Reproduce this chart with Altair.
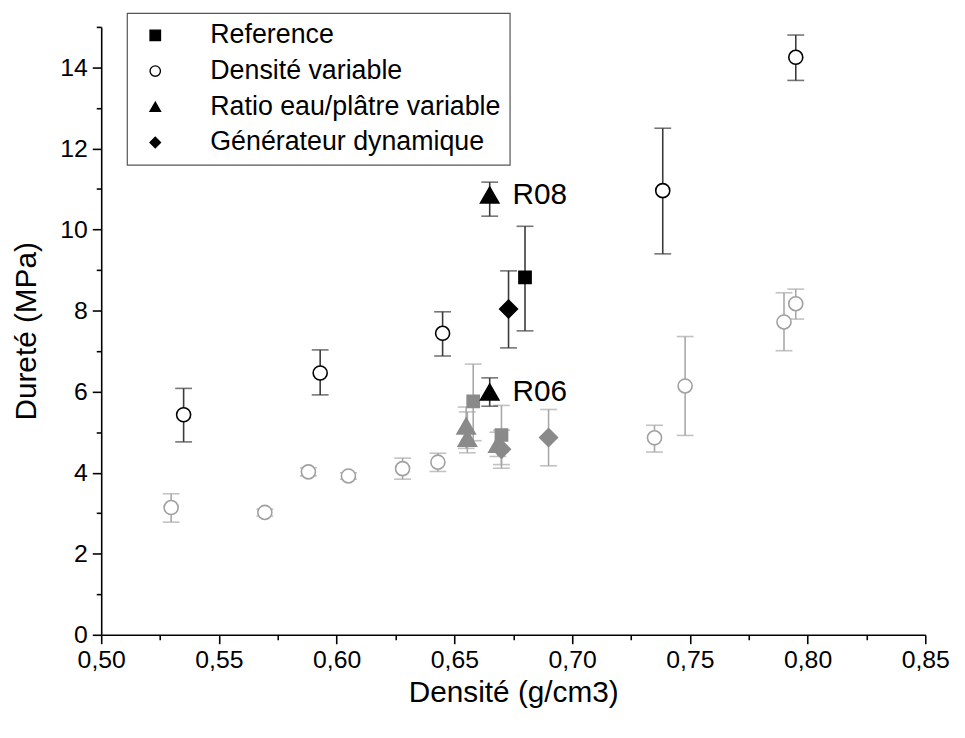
import altair as alt
import pandas as pd

series_names = ["Reference", "Densité variable", "Ratio eau/plâtre variable", "Générateur dynamique"]
shapes = ["square", "circle", "triangle-up", "diamond"]
legend_fills = ["black", "white", "black", "black"]
legend_strokes = ["black", "black", "black", "black"]
marker_sizes = [150, 200, 340, 320]

# Dark (black) series
dark_series = ["Reference",
               "Densité variable", "Densité variable", "Densité variable", "Densité variable", "Densité variable",
               "Ratio eau/plâtre variable", "Ratio eau/plâtre variable",
               "Générateur dynamique"]
dark_x = [0.680, 0.535, 0.593, 0.645, 0.7385, 0.795, 0.665, 0.665, 0.673]
dark_y = [8.82, 5.43, 6.46, 7.44, 10.96, 14.25, 10.85, 5.99, 8.04]
dark_lo = [7.50, 4.76, 5.92, 6.88, 9.40, 13.68, 10.33, 5.64, 7.08]
dark_hi = [10.08, 6.08, 7.03, 7.97, 12.50, 14.80, 11.17, 6.34, 8.98]

# Light (gray) series
gray_series = ["Reference", "Reference",
               "Densité variable", "Densité variable", "Densité variable", "Densité variable", "Densité variable",
               "Densité variable", "Densité variable", "Densité variable", "Densité variable", "Densité variable",
               "Ratio eau/plâtre variable", "Ratio eau/plâtre variable", "Ratio eau/plâtre variable",
               "Générateur dynamique", "Générateur dynamique"]
gray_x = [0.658, 0.670,
          0.5297, 0.5695, 0.588, 0.605, 0.628, 0.643, 0.735, 0.748, 0.790, 0.795,
          0.655, 0.6555, 0.6685,
          0.670, 0.690]
gray_y = [5.76, 4.93,
          3.14, 3.02, 4.02, 3.92, 4.10, 4.26, 4.86, 6.14, 7.72, 8.17,
          5.15, 4.85, 4.70,
          4.58, 4.87]
gray_lo = [4.79, 4.20,
           2.78, 2.93, 3.92, 3.84, 3.84, 4.03, 4.51, 4.92, 7.01, 7.79,
           4.60, 4.49, 4.40,
           4.11, 4.17]
gray_hi = [6.68, 5.66,
           3.48, 3.10, 4.12, 4.00, 4.36, 4.48, 5.17, 7.36, 8.44, 8.53,
           5.62, 5.50, 5.00,
           5.05, 5.56]

label_text = ["R08", "R06"]
label_x = [0.665, 0.665]
label_y = [10.85, 5.99]

size_of = dict(zip(series_names, marker_sizes))

dark = pd.DataFrame({"series": dark_series, "x": dark_x, "y": dark_y, "lo": dark_lo, "hi": dark_hi})
dark["sz"] = [size_of[s] for s in dark_series]
gray = pd.DataFrame({"series": gray_series, "x": gray_x, "y": gray_y, "lo": gray_lo, "hi": gray_hi})
gray["sz"] = [size_of[s] for s in gray_series]
gray["fillc"] = ["white" if s == "Densité variable" else "#8a8a8a" for s in gray_series]
gray["strokec"] = ["#a0a0a0" if s == "Densité variable" else "#8a8a8a" for s in gray_series]
labels = pd.DataFrame({"t": label_text, "x": label_x, "y": label_y})

FONT = "Liberation Sans"
x_vals = [round(0.5 + 0.025 * i, 3) for i in range(15)]
y_vals = list(range(16))

xscale = alt.Scale(domain=[0.5, 0.85], nice=False, zero=False)
yscale = alt.Scale(domain=[0, 15], nice=False)

xaxis = alt.Axis(
    values=x_vals, title="Densité (g/cm3)", grid=False,
    labelExpr="(round(datum.value*1000) % 50 == 0) ? replace(format(datum.value, '.2f'), '.', ',') : ''",
    tickSize={"condition": {"test": "round(datum.value*1000) % 50 == 0", "value": 9}, "value": 5},
    labelFontSize=25, titleFontSize=30, labelFont=FONT, titleFont=FONT,
    labelColor="black", titleColor="black", domainColor="black", tickColor="black",
    domainWidth=1.6, tickWidth=1.6, labelPadding=4, titlePadding=5,
    titleFontWeight="normal", labelFlush=False, labelOverlap=False,
)
yaxis = alt.Axis(
    values=y_vals, title="Dureté (MPa)", grid=False,
    labelExpr="(datum.value % 2 == 0) ? format(datum.value, 'd') : ''",
    tickSize={"condition": {"test": "datum.value % 2 == 0", "value": 9}, "value": 5},
    labelFontSize=25, titleFontSize=30, labelFont=FONT, titleFont=FONT,
    labelColor="black", titleColor="black", domainColor="black", tickColor="black",
    domainWidth=1.6, tickWidth=1.6, labelPadding=5, titlePadding=18,
    titleFontWeight="normal", labelFlush=False, labelOverlap=False,
)

X = alt.X("x:Q", scale=xscale, axis=xaxis)
Y = alt.Y("y:Q", scale=yscale, axis=yaxis)

def errbars(df, color):
    base = alt.Chart(df)
    rule = base.mark_rule(color=color, strokeWidth=1.6).encode(
        x=alt.X("x:Q", scale=xscale, axis=xaxis), y=alt.Y("lo:Q", scale=yscale, axis=yaxis), y2="hi:Q")
    cap_lo = base.mark_tick(color=color, orient="horizontal", size=17, thickness=1.6).encode(
        x=alt.X("x:Q", scale=xscale, axis=xaxis), y=alt.Y("lo:Q", scale=yscale, axis=yaxis))
    cap_hi = base.mark_tick(color=color, orient="horizontal", size=17, thickness=1.6).encode(
        x=alt.X("x:Q", scale=xscale, axis=xaxis), y=alt.Y("hi:Q", scale=yscale, axis=yaxis))
    return rule + cap_lo + cap_hi

shape_enc = alt.Shape("series:N", scale=alt.Scale(domain=series_names, range=shapes),
                      title=None, sort=series_names)
size_enc = alt.Size("sz:Q", scale=None)

gray_pts = alt.Chart(gray).mark_point(filled=True, strokeWidth=1.6, opacity=1).encode(
    x=X, y=Y, shape=shape_enc, size=size_enc,
    fill=alt.Fill("fillc:N", scale=None),
    stroke=alt.Stroke("strokec:N", scale=None),
)

dark_pts = alt.Chart(dark).mark_point(filled=True, strokeWidth=1.6, opacity=1).encode(
    x=X, y=Y, shape=shape_enc, size=size_enc,
    fill=alt.Fill("series:N", scale=alt.Scale(domain=series_names, range=legend_fills),
                  title=None, sort=series_names),
    stroke=alt.Stroke("series:N", scale=alt.Scale(domain=series_names, range=legend_strokes),
                      title=None, sort=series_names),
)

txt = alt.Chart(labels).mark_text(align="left", baseline="middle", dx=23, dy=0,
                                  font=FONT, fontSize=30, color="black").encode(
    x=X, y=Y, text="t:N")

chart = alt.layer(
    errbars(gray, "#a8a8a8"), errbars(dark, "#3a3a3a"), gray_pts, dark_pts, txt
).properties(
    width=831, height=613,
    autosize=alt.AutoSizeParams(type="none"),
    padding={"left": 94, "top": 16, "right": 32, "bottom": 101},
).configure_view(stroke=None).configure_legend(
    orient="none", legendX=26, legendY=-14,
    strokeColor="#555555", strokeWidth=1.2, fillColor="white",
    padding=9, rowPadding=8, labelFontSize=27, labelFont=FONT, labelColor="black",
    symbolSize=110, symbolStrokeWidth=1.4,
    symbolOffset=6, labelOffset=42, labelLimit=0, cornerRadius=0,
)

chart.save("out.html", embed_options={"renderer": "svg", "actions": False})
